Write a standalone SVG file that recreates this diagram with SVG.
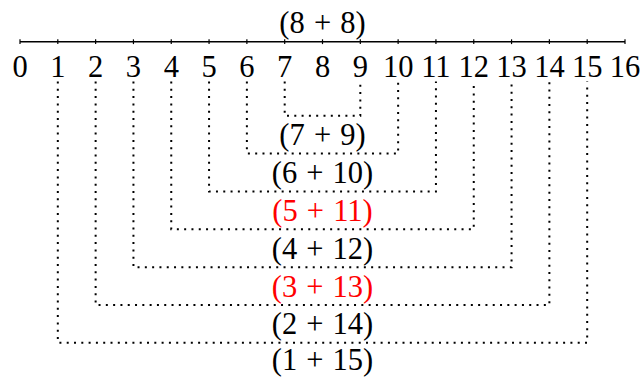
<svg xmlns="http://www.w3.org/2000/svg" width="641" height="377" viewBox="0 0 641 377" font-family="'Liberation Serif', 'Times New Roman', serif">
<style>
text{font-family:'Liberation Serif','Times New Roman',serif;font-size:30.5px;fill:#000;text-anchor:middle}
.lbl{word-spacing:1.5px}
.red{fill:#ff0000}
.axis{stroke:#000;stroke-width:1.6;fill:none}
.tick{stroke:#000;stroke-width:1.2}
.dot{stroke:#000;stroke-width:2;stroke-dasharray:2 5.3;fill:none}
</style>
<rect width="641" height="377" fill="#fff"/>
<g id="axis">
<line class="axis" x1="20" y1="41.7" x2="625" y2="41.7"/>
<g class="tick">
<line x1="20" y1="39.3" x2="20" y2="44.1"/>
<line x1="57.81" y1="39.3" x2="57.81" y2="44.1"/>
<line x1="95.63" y1="39.3" x2="95.63" y2="44.1"/>
<line x1="133.44" y1="39.3" x2="133.44" y2="44.1"/>
<line x1="171.25" y1="39.3" x2="171.25" y2="44.1"/>
<line x1="209.06" y1="39.3" x2="209.06" y2="44.1"/>
<line x1="246.88" y1="39.3" x2="246.88" y2="44.1"/>
<line x1="284.69" y1="39.3" x2="284.69" y2="44.1"/>
<line x1="322.5" y1="39.3" x2="322.5" y2="44.1"/>
<line x1="360.31" y1="39.3" x2="360.31" y2="44.1"/>
<line x1="398.13" y1="39.3" x2="398.13" y2="44.1"/>
<line x1="435.94" y1="39.3" x2="435.94" y2="44.1"/>
<line x1="473.75" y1="39.3" x2="473.75" y2="44.1"/>
<line x1="511.56" y1="39.3" x2="511.56" y2="44.1"/>
<line x1="549.38" y1="39.3" x2="549.38" y2="44.1"/>
<line x1="587.19" y1="39.3" x2="587.19" y2="44.1"/>
<line x1="625" y1="39.3" x2="625" y2="44.1"/>
</g>
<g id="axis-labels">
<text x="20" y="76.5">0</text>
<text x="57.81" y="76.5">1</text>
<text x="95.63" y="76.5">2</text>
<text x="133.44" y="76.5">3</text>
<text x="171.25" y="76.5">4</text>
<text x="209.06" y="76.5">5</text>
<text x="246.88" y="76.5">6</text>
<text x="284.69" y="76.5">7</text>
<text x="322.5" y="76.5">8</text>
<text x="360.31" y="76.5">9</text>
<text x="398.13" y="76.5">10</text>
<text x="435.94" y="76.5">11</text>
<text x="473.75" y="76.5">12</text>
<text x="511.56" y="76.5">13</text>
<text x="549.38" y="76.5">14</text>
<text x="587.19" y="76.5">15</text>
<text x="625" y="76.5">16</text>
</g>
</g>
<g id="connectors">
<path class="dot" d="M284.69 81.5V115.7H360.31V81.5"/>
<path class="dot" d="M246.88 81.5V153.5H398.13V81.5"/>
<path class="dot" d="M209.06 81.5V191.4H435.94V81.5"/>
<path class="dot" d="M171.25 81.5V229.2H473.75V81.5"/>
<path class="dot" d="M133.44 81.5V267.2H511.56V81.5"/>
<path class="dot" d="M95.63 81.5V304.9H549.38V81.5"/>
<path class="dot" d="M57.81 81.5V342.7H587.19V81.5"/>
</g>
<g id="node-8-8"><text class="lbl" x="322.5" y="33.4">(8 + 8)</text></g>
<g id="node-7-9"><text class="lbl" x="322.5" y="145.2">(7 + 9)</text></g>
<g id="node-6-10"><text class="lbl" x="322.5" y="183.1">(6 + 10)</text></g>
<g id="node-5-11"><text class="lbl red" x="322.5" y="220.9">(5 + 11)</text></g>
<g id="node-4-12"><text class="lbl" x="322.5" y="258.7">(4 + 12)</text></g>
<g id="node-3-13"><text class="lbl red" x="322.5" y="296.5">(3 + 13)</text></g>
<g id="node-2-14"><text class="lbl" x="322.5" y="334.4">(2 + 14)</text></g>
<g id="node-1-15"><text class="lbl" x="322.5" y="369.8">(1 + 15)</text></g>
</svg>
